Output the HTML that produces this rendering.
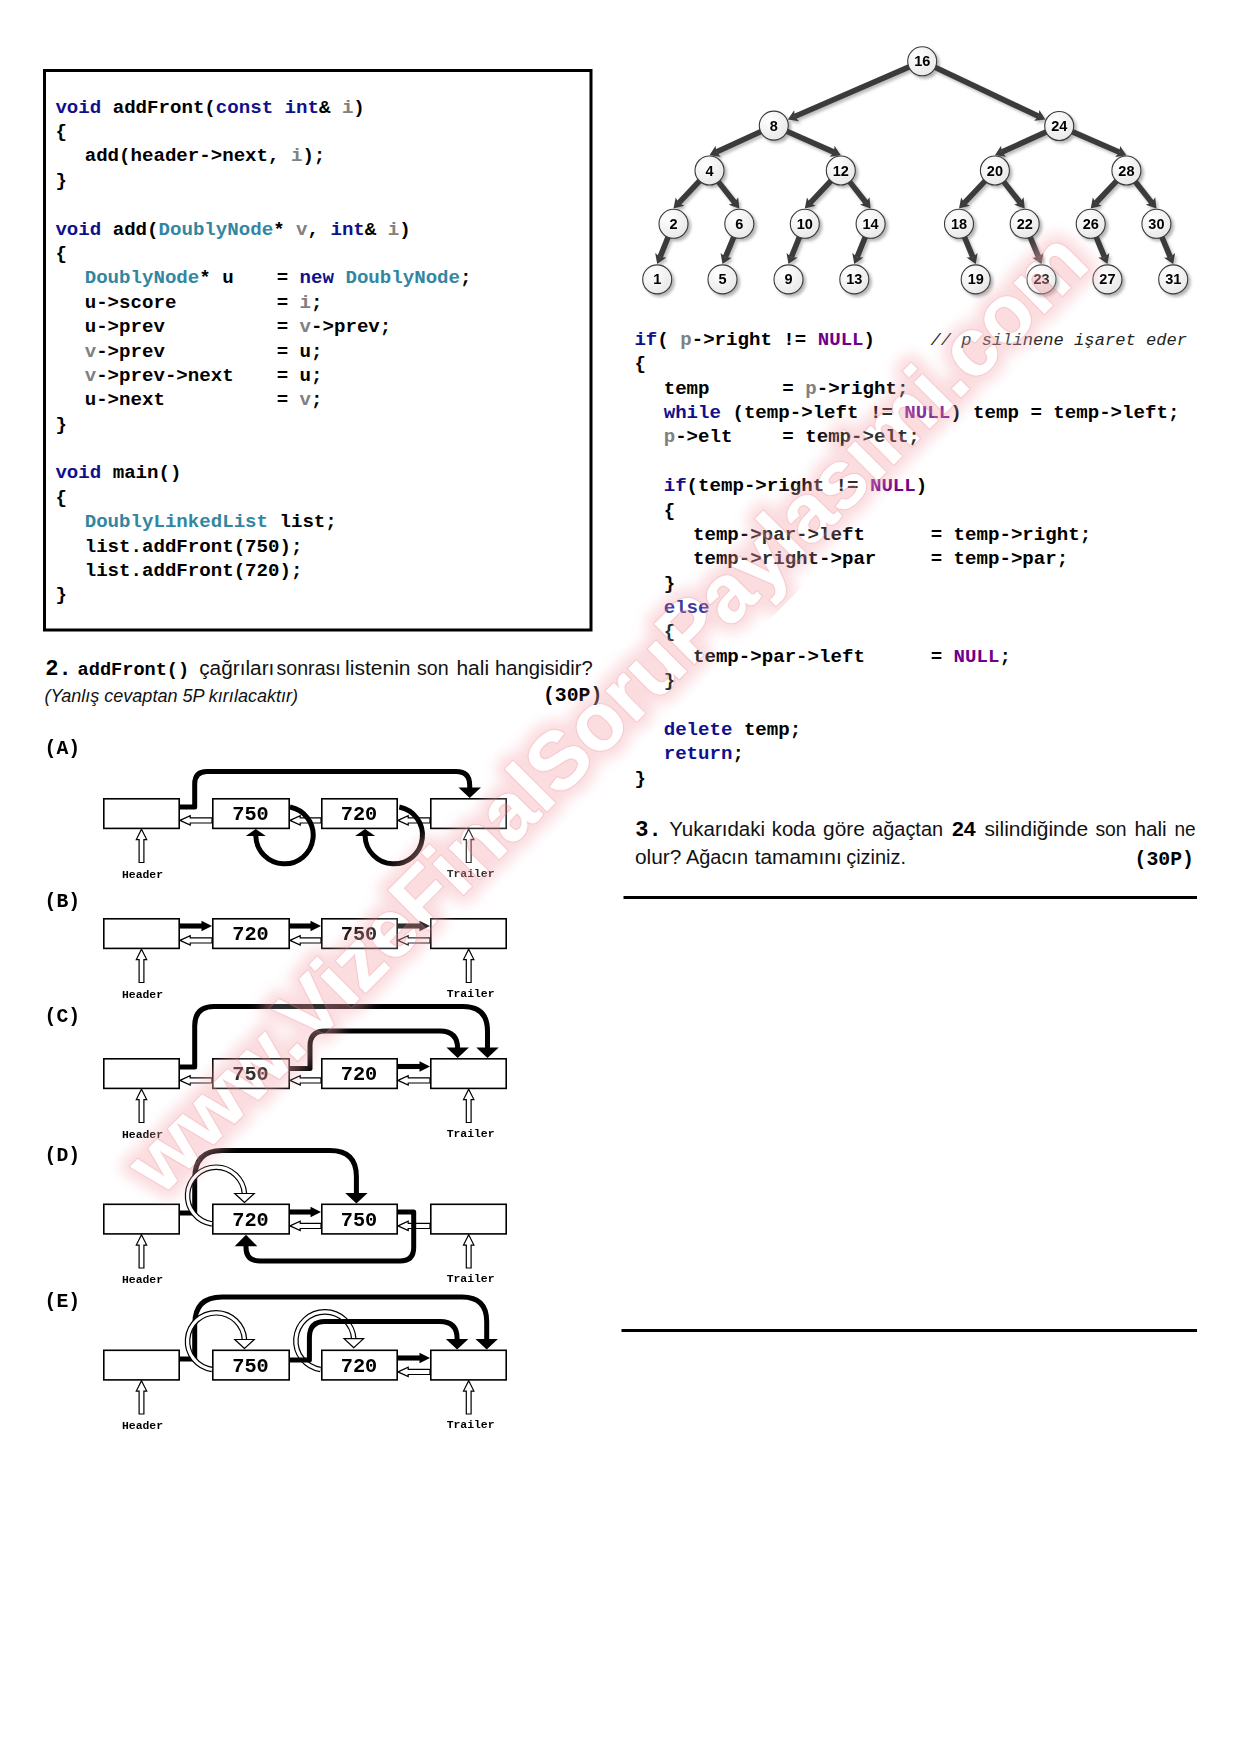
<!DOCTYPE html><html><head><meta charset="utf-8"><style>html,body{margin:0;padding:0;background:#fff;}body{width:1240px;height:1754px;overflow:hidden;position:relative;}svg{position:absolute;left:0;top:0;}svg text{white-space:pre;}</style></head><body>
<svg width="1240" height="1754" viewBox="0 0 1240 1754">
<defs><filter id="sh" x="-30%" y="-30%" width="160%" height="160%"><feGaussianBlur stdDeviation="1.6"/></filter><radialGradient id="ng" cx="35%" cy="30%" r="75%"><stop offset="0" stop-color="#ffffff"/><stop offset="1" stop-color="#e8e8e8"/></radialGradient><filter id="wm" x="-10%" y="-10%" width="120%" height="120%"><feGaussianBlur stdDeviation="4"/></filter></defs>
<rect x="44.5" y="70.5" width="546.5" height="559.5" fill="none" stroke="#000" stroke-width="3"/>
<text x="55.40" y="112.70" font-family="'Liberation Mono', monospace" font-size="19.10" font-weight="bold" font-style="normal" xml:space="preserve"><tspan fill="#10108c">void</tspan><tspan fill="#000000"> addFront(</tspan><tspan fill="#10108c">const</tspan><tspan fill="#000000"> </tspan><tspan fill="#10108c">int</tspan><tspan fill="#000000">&amp; </tspan><tspan fill="#808080">i</tspan><tspan fill="#000000">)</tspan></text>
<text x="55.40" y="137.08" font-family="'Liberation Mono', monospace" font-size="19.10" font-weight="bold" font-style="normal" xml:space="preserve"><tspan fill="#000000">{</tspan></text>
<text x="84.70" y="161.46" font-family="'Liberation Mono', monospace" font-size="19.10" font-weight="bold" font-style="normal" xml:space="preserve"><tspan fill="#000000">add(header-&gt;next, </tspan><tspan fill="#808080">i</tspan><tspan fill="#000000">);</tspan></text>
<text x="55.40" y="185.84" font-family="'Liberation Mono', monospace" font-size="19.10" font-weight="bold" font-style="normal" xml:space="preserve"><tspan fill="#000000">}</tspan></text>
<text x="55.40" y="234.60" font-family="'Liberation Mono', monospace" font-size="19.10" font-weight="bold" font-style="normal" xml:space="preserve"><tspan fill="#10108c">void</tspan><tspan fill="#000000"> add(</tspan><tspan fill="#3386a0">DoublyNode</tspan><tspan fill="#000000">* </tspan><tspan fill="#808080">v</tspan><tspan fill="#000000">, </tspan><tspan fill="#10108c">int</tspan><tspan fill="#000000">&amp; </tspan><tspan fill="#808080">i</tspan><tspan fill="#000000">)</tspan></text>
<text x="55.40" y="258.98" font-family="'Liberation Mono', monospace" font-size="19.10" font-weight="bold" font-style="normal" xml:space="preserve"><tspan fill="#000000">{</tspan></text>
<text x="84.70" y="283.36" font-family="'Liberation Mono', monospace" font-size="19.10" font-weight="bold" font-style="normal" xml:space="preserve"><tspan fill="#3386a0">DoublyNode</tspan><tspan fill="#000000">* u</tspan></text>
<text x="276.70" y="283.36" font-family="'Liberation Mono', monospace" font-size="19.10" font-weight="bold" font-style="normal" xml:space="preserve"><tspan fill="#000000">= </tspan><tspan fill="#10108c">new</tspan><tspan fill="#000000"> </tspan><tspan fill="#3386a0">DoublyNode</tspan><tspan fill="#000000">;</tspan></text>
<text x="84.70" y="307.74" font-family="'Liberation Mono', monospace" font-size="19.10" font-weight="bold" font-style="normal" xml:space="preserve"><tspan fill="#000000">u-&gt;score</tspan></text>
<text x="276.70" y="307.74" font-family="'Liberation Mono', monospace" font-size="19.10" font-weight="bold" font-style="normal" xml:space="preserve"><tspan fill="#000000">= </tspan><tspan fill="#808080">i</tspan><tspan fill="#000000">;</tspan></text>
<text x="84.70" y="332.12" font-family="'Liberation Mono', monospace" font-size="19.10" font-weight="bold" font-style="normal" xml:space="preserve"><tspan fill="#000000">u-&gt;prev</tspan></text>
<text x="276.70" y="332.12" font-family="'Liberation Mono', monospace" font-size="19.10" font-weight="bold" font-style="normal" xml:space="preserve"><tspan fill="#000000">= </tspan><tspan fill="#808080">v</tspan><tspan fill="#000000">-&gt;prev;</tspan></text>
<text x="84.70" y="356.50" font-family="'Liberation Mono', monospace" font-size="19.10" font-weight="bold" font-style="normal" xml:space="preserve"><tspan fill="#808080">v</tspan><tspan fill="#000000">-&gt;prev</tspan></text>
<text x="276.70" y="356.50" font-family="'Liberation Mono', monospace" font-size="19.10" font-weight="bold" font-style="normal" xml:space="preserve"><tspan fill="#000000">= u;</tspan></text>
<text x="84.70" y="380.88" font-family="'Liberation Mono', monospace" font-size="19.10" font-weight="bold" font-style="normal" xml:space="preserve"><tspan fill="#808080">v</tspan><tspan fill="#000000">-&gt;prev-&gt;next</tspan></text>
<text x="276.70" y="380.88" font-family="'Liberation Mono', monospace" font-size="19.10" font-weight="bold" font-style="normal" xml:space="preserve"><tspan fill="#000000">= u;</tspan></text>
<text x="84.70" y="405.26" font-family="'Liberation Mono', monospace" font-size="19.10" font-weight="bold" font-style="normal" xml:space="preserve"><tspan fill="#000000">u-&gt;next</tspan></text>
<text x="276.70" y="405.26" font-family="'Liberation Mono', monospace" font-size="19.10" font-weight="bold" font-style="normal" xml:space="preserve"><tspan fill="#000000">= </tspan><tspan fill="#808080">v</tspan><tspan fill="#000000">;</tspan></text>
<text x="55.40" y="429.64" font-family="'Liberation Mono', monospace" font-size="19.10" font-weight="bold" font-style="normal" xml:space="preserve"><tspan fill="#000000">}</tspan></text>
<text x="55.40" y="478.40" font-family="'Liberation Mono', monospace" font-size="19.10" font-weight="bold" font-style="normal" xml:space="preserve"><tspan fill="#10108c">void</tspan><tspan fill="#000000"> main()</tspan></text>
<text x="55.40" y="502.78" font-family="'Liberation Mono', monospace" font-size="19.10" font-weight="bold" font-style="normal" xml:space="preserve"><tspan fill="#000000">{</tspan></text>
<text x="84.70" y="527.16" font-family="'Liberation Mono', monospace" font-size="19.10" font-weight="bold" font-style="normal" xml:space="preserve"><tspan fill="#3386a0">DoublyLinkedList</tspan><tspan fill="#000000"> list;</tspan></text>
<text x="84.70" y="551.54" font-family="'Liberation Mono', monospace" font-size="19.10" font-weight="bold" font-style="normal" xml:space="preserve"><tspan fill="#000000">list.addFront(750);</tspan></text>
<text x="84.70" y="575.92" font-family="'Liberation Mono', monospace" font-size="19.10" font-weight="bold" font-style="normal" xml:space="preserve"><tspan fill="#000000">list.addFront(720);</tspan></text>
<text x="55.40" y="600.30" font-family="'Liberation Mono', monospace" font-size="19.10" font-weight="bold" font-style="normal" xml:space="preserve"><tspan fill="#000000">}</tspan></text>
<text x="634.40" y="344.90" font-family="'Liberation Mono', monospace" font-size="19.10" font-weight="bold" font-style="normal" xml:space="preserve"><tspan fill="#10108c">if</tspan><tspan fill="#000000">( </tspan><tspan fill="#808080">p</tspan><tspan fill="#000000">-&gt;right != </tspan><tspan fill="#6f008a">NULL</tspan><tspan fill="#000000">)</tspan></text>
<text x="634.40" y="369.28" font-family="'Liberation Mono', monospace" font-size="19.10" font-weight="bold" font-style="normal" xml:space="preserve"><tspan fill="#000000">{</tspan></text>
<text x="663.70" y="393.66" font-family="'Liberation Mono', monospace" font-size="19.10" font-weight="bold" font-style="normal" xml:space="preserve"><tspan fill="#000000">temp</tspan></text>
<text x="782.30" y="393.66" font-family="'Liberation Mono', monospace" font-size="19.10" font-weight="bold" font-style="normal" xml:space="preserve"><tspan fill="#000000">= </tspan><tspan fill="#808080">p</tspan><tspan fill="#000000">-&gt;right;</tspan></text>
<text x="663.70" y="418.04" font-family="'Liberation Mono', monospace" font-size="19.10" font-weight="bold" font-style="normal" xml:space="preserve"><tspan fill="#10108c">while</tspan><tspan fill="#000000"> (temp-&gt;left != </tspan><tspan fill="#6f008a">NULL</tspan><tspan fill="#000000">) temp = temp-&gt;left;</tspan></text>
<text x="663.70" y="442.42" font-family="'Liberation Mono', monospace" font-size="19.10" font-weight="bold" font-style="normal" xml:space="preserve"><tspan fill="#808080">p</tspan><tspan fill="#000000">-&gt;elt</tspan></text>
<text x="782.30" y="442.42" font-family="'Liberation Mono', monospace" font-size="19.10" font-weight="bold" font-style="normal" xml:space="preserve"><tspan fill="#000000">= temp-&gt;elt;</tspan></text>
<text x="663.70" y="491.18" font-family="'Liberation Mono', monospace" font-size="19.10" font-weight="bold" font-style="normal" xml:space="preserve"><tspan fill="#10108c">if</tspan><tspan fill="#000000">(temp-&gt;right != </tspan><tspan fill="#6f008a">NULL</tspan><tspan fill="#000000">)</tspan></text>
<text x="663.70" y="515.56" font-family="'Liberation Mono', monospace" font-size="19.10" font-weight="bold" font-style="normal" xml:space="preserve"><tspan fill="#000000">{</tspan></text>
<text x="693.00" y="539.94" font-family="'Liberation Mono', monospace" font-size="19.10" font-weight="bold" font-style="normal" xml:space="preserve"><tspan fill="#000000">temp-&gt;par-&gt;left</tspan></text>
<text x="930.70" y="539.94" font-family="'Liberation Mono', monospace" font-size="19.10" font-weight="bold" font-style="normal" xml:space="preserve"><tspan fill="#000000">= temp-&gt;right;</tspan></text>
<text x="693.00" y="564.32" font-family="'Liberation Mono', monospace" font-size="19.10" font-weight="bold" font-style="normal" xml:space="preserve"><tspan fill="#000000">temp-&gt;right-&gt;par</tspan></text>
<text x="930.70" y="564.32" font-family="'Liberation Mono', monospace" font-size="19.10" font-weight="bold" font-style="normal" xml:space="preserve"><tspan fill="#000000">= temp-&gt;par;</tspan></text>
<text x="663.70" y="588.70" font-family="'Liberation Mono', monospace" font-size="19.10" font-weight="bold" font-style="normal" xml:space="preserve"><tspan fill="#000000">}</tspan></text>
<text x="663.70" y="613.08" font-family="'Liberation Mono', monospace" font-size="19.10" font-weight="bold" font-style="normal" xml:space="preserve"><tspan fill="#10108c">else</tspan></text>
<text x="663.70" y="637.46" font-family="'Liberation Mono', monospace" font-size="19.10" font-weight="bold" font-style="normal" xml:space="preserve"><tspan fill="#000000">{</tspan></text>
<text x="693.00" y="661.84" font-family="'Liberation Mono', monospace" font-size="19.10" font-weight="bold" font-style="normal" xml:space="preserve"><tspan fill="#000000">temp-&gt;par-&gt;left</tspan></text>
<text x="930.70" y="661.84" font-family="'Liberation Mono', monospace" font-size="19.10" font-weight="bold" font-style="normal" xml:space="preserve"><tspan fill="#000000">= </tspan><tspan fill="#6f008a">NULL</tspan><tspan fill="#000000">;</tspan></text>
<text x="663.70" y="686.22" font-family="'Liberation Mono', monospace" font-size="19.10" font-weight="bold" font-style="normal" xml:space="preserve"><tspan fill="#000000">}</tspan></text>
<text x="663.70" y="734.98" font-family="'Liberation Mono', monospace" font-size="19.10" font-weight="bold" font-style="normal" xml:space="preserve"><tspan fill="#10108c">delete</tspan><tspan fill="#000000"> temp;</tspan></text>
<text x="663.70" y="759.36" font-family="'Liberation Mono', monospace" font-size="19.10" font-weight="bold" font-style="normal" xml:space="preserve"><tspan fill="#10108c">return</tspan><tspan fill="#000000">;</tspan></text>
<text x="634.40" y="783.74" font-family="'Liberation Mono', monospace" font-size="19.10" font-weight="bold" font-style="normal" xml:space="preserve"><tspan fill="#000000">}</tspan></text>
<text x="930.5" y="344.9" font-family="'Liberation Mono', monospace" font-size="17.1" font-style="italic" fill="#222" xml:space="preserve">// p silinene işaret eder</text>
<text x="45.2" y="675" font-family="'Liberation Mono', monospace" font-size="22" font-weight="bold" fill="#000">2.</text>
<text x="77.6" y="675" font-family="'Liberation Mono', monospace" font-size="18.6" font-weight="bold" fill="#000">addFront()</text>
<text x="199.2" y="674.5" font-family="'Liberation Sans', sans-serif" font-size="19.7" font-weight="normal" fill="#111" textLength="75.2" lengthAdjust="spacingAndGlyphs">çağrıları</text>
<text x="276.5" y="674.5" font-family="'Liberation Sans', sans-serif" font-size="19.7" font-weight="normal" fill="#111" textLength="64.3" lengthAdjust="spacingAndGlyphs">sonrası</text>
<text x="345.1" y="674.5" font-family="'Liberation Sans', sans-serif" font-size="19.7" font-weight="normal" fill="#111" textLength="65.4" lengthAdjust="spacingAndGlyphs">listenin</text>
<text x="416.9" y="674.5" font-family="'Liberation Sans', sans-serif" font-size="19.7" font-weight="normal" fill="#111" textLength="31.7" lengthAdjust="spacingAndGlyphs">son</text>
<text x="456.4" y="674.5" font-family="'Liberation Sans', sans-serif" font-size="19.7" font-weight="normal" fill="#111" textLength="32.7" lengthAdjust="spacingAndGlyphs">hali</text>
<text x="495.0" y="674.5" font-family="'Liberation Sans', sans-serif" font-size="19.7" font-weight="normal" fill="#111" textLength="97.6" lengthAdjust="spacingAndGlyphs">hangisidir?</text>
<text x="44.5" y="701.5" font-family="'Liberation Sans', sans-serif" font-size="18.6" font-style="italic" fill="#111" textLength="253.5" lengthAdjust="spacingAndGlyphs">(Yanlış cevaptan 5P kırılacaktır)</text>
<text x="543.0" y="701.0" font-family="'Liberation Mono', monospace" font-size="19.8" font-weight="bold" fill="#000">(30P)</text>
<text x="635.2" y="836.3" font-family="'Liberation Mono', monospace" font-size="22" font-weight="bold" fill="#000">3.</text>
<text x="669.3" y="836.3" font-family="'Liberation Sans', sans-serif" font-size="19.7" font-weight="normal" fill="#111" textLength="95.7" lengthAdjust="spacingAndGlyphs">Yukarıdaki</text>
<text x="771.8" y="836.3" font-family="'Liberation Sans', sans-serif" font-size="19.7" font-weight="normal" fill="#111" textLength="43.8" lengthAdjust="spacingAndGlyphs">koda</text>
<text x="823.1" y="836.3" font-family="'Liberation Sans', sans-serif" font-size="19.7" font-weight="normal" fill="#111" textLength="41.7" lengthAdjust="spacingAndGlyphs">göre</text>
<text x="872.1" y="836.3" font-family="'Liberation Sans', sans-serif" font-size="19.7" font-weight="normal" fill="#111" textLength="71.0" lengthAdjust="spacingAndGlyphs">ağaçtan</text>
<text x="951.9" y="836.3" font-family="'Liberation Sans', sans-serif" font-size="19.7" font-weight="bold" fill="#000" textLength="23.7" lengthAdjust="spacingAndGlyphs">24</text>
<text x="984.4" y="836.3" font-family="'Liberation Sans', sans-serif" font-size="19.7" font-weight="normal" fill="#111" textLength="103.7" lengthAdjust="spacingAndGlyphs">silindiğinde</text>
<text x="1095.4" y="836.3" font-family="'Liberation Sans', sans-serif" font-size="19.7" font-weight="normal" fill="#111" textLength="31.2" lengthAdjust="spacingAndGlyphs">son</text>
<text x="1134.4" y="836.3" font-family="'Liberation Sans', sans-serif" font-size="19.7" font-weight="normal" fill="#111" textLength="32.2" lengthAdjust="spacingAndGlyphs">hali</text>
<text x="1174.4" y="836.3" font-family="'Liberation Sans', sans-serif" font-size="19.7" font-weight="normal" fill="#111" textLength="21.2" lengthAdjust="spacingAndGlyphs">ne</text>
<text x="635.0" y="864.2" font-family="'Liberation Sans', sans-serif" font-size="19.7" font-weight="normal" fill="#111" textLength="46.4" lengthAdjust="spacingAndGlyphs">olur?</text>
<text x="685.9" y="864.2" font-family="'Liberation Sans', sans-serif" font-size="19.7" font-weight="normal" fill="#111" textLength="62.1" lengthAdjust="spacingAndGlyphs">Ağacın</text>
<text x="754.7" y="864.2" font-family="'Liberation Sans', sans-serif" font-size="19.7" font-weight="normal" fill="#111" textLength="87.0" lengthAdjust="spacingAndGlyphs">tamamını</text>
<text x="846.2" y="864.2" font-family="'Liberation Sans', sans-serif" font-size="19.7" font-weight="normal" fill="#111" textLength="59.9" lengthAdjust="spacingAndGlyphs">çiziniz.</text>
<text x="1134.6" y="864.7" font-family="'Liberation Mono', monospace" font-size="19.8" font-weight="bold" fill="#000">(30P)</text>
<rect x="623.5" y="896" width="573.5" height="3" fill="#000"/>
<rect x="621.5" y="1329" width="575.5" height="3" fill="#000"/>
<g filter="url(#sh)" opacity="0.55">
<g transform="translate(2.0,2.5)"><line x1="909.81" y1="66.67" x2="794.72" y2="116.54" stroke="#888" stroke-width="5.6"/><polygon points="787.84,119.52 794.17,110.23 794.72,116.54 798.94,121.25" fill="#888"/></g>
<g transform="translate(2.0,2.5)"><line x1="934.41" y1="67.06" x2="1038.58" y2="116.26" stroke="#888" stroke-width="5.6"/><polygon points="1045.37,119.47 1034.21,120.83 1038.58,116.26 1039.34,109.98" fill="#888"/></g>
<g transform="translate(2.0,2.5)"><line x1="761.54" y1="131.25" x2="716.31" y2="152.06" stroke="#888" stroke-width="5.6"/><polygon points="709.50,155.20 715.62,145.78 716.31,152.06 720.64,156.68" fill="#888"/></g>
<g transform="translate(2.0,2.5)"><line x1="786.15" y1="131.06" x2="833.94" y2="152.17" stroke="#888" stroke-width="5.6"/><polygon points="840.80,155.20 829.69,156.85 833.94,152.17 834.53,145.87" fill="#888"/></g>
<g transform="translate(2.0,2.5)"><line x1="1046.91" y1="131.58" x2="1001.73" y2="152.10" stroke="#888" stroke-width="5.6"/><polygon points="994.90,155.20 1001.07,145.81 1001.73,152.10 1006.03,156.73" fill="#888"/></g>
<g transform="translate(2.0,2.5)"><line x1="1071.58" y1="131.38" x2="1119.52" y2="152.21" stroke="#888" stroke-width="5.6"/><polygon points="1126.40,155.20 1115.30,156.92 1119.52,152.21 1120.08,145.91" fill="#888"/></g>
<g transform="translate(2.0,2.5)"><line x1="700.22" y1="180.30" x2="678.66" y2="203.06" stroke="#888" stroke-width="5.6"/><polygon points="673.50,208.50 675.68,197.48 678.66,203.06 684.39,205.73" fill="#888"/></g>
<g transform="translate(2.0,2.5)"><line x1="717.83" y1="181.12" x2="734.67" y2="202.60" stroke="#888" stroke-width="5.6"/><polygon points="739.30,208.50 728.72,204.73 734.67,202.60 738.16,197.32" fill="#888"/></g>
<g transform="translate(2.0,2.5)"><line x1="831.52" y1="180.30" x2="809.96" y2="203.06" stroke="#888" stroke-width="5.6"/><polygon points="804.80,208.50 806.98,197.48 809.96,203.06 815.69,205.73" fill="#888"/></g>
<g transform="translate(2.0,2.5)"><line x1="849.13" y1="181.12" x2="865.97" y2="202.60" stroke="#888" stroke-width="5.6"/><polygon points="870.60,208.50 860.02,204.73 865.97,202.60 869.46,197.32" fill="#888"/></g>
<g transform="translate(2.0,2.5)"><line x1="985.63" y1="180.31" x2="964.15" y2="203.05" stroke="#888" stroke-width="5.6"/><polygon points="959.00,208.50 961.16,197.47 964.15,203.05 969.89,205.71" fill="#888"/></g>
<g transform="translate(2.0,2.5)"><line x1="1003.23" y1="181.12" x2="1020.07" y2="202.60" stroke="#888" stroke-width="5.6"/><polygon points="1024.70,208.50 1014.12,204.73 1020.07,202.60 1023.56,197.32" fill="#888"/></g>
<g transform="translate(2.0,2.5)"><line x1="1117.16" y1="180.34" x2="1095.84" y2="203.03" stroke="#888" stroke-width="5.6"/><polygon points="1090.70,208.50 1092.83,197.47 1095.84,203.03 1101.58,205.68" fill="#888"/></g>
<g transform="translate(2.0,2.5)"><line x1="1134.77" y1="181.10" x2="1151.75" y2="202.61" stroke="#888" stroke-width="5.6"/><polygon points="1156.40,208.50 1145.80,204.76 1151.75,202.61 1155.22,197.33" fill="#888"/></g>
<g transform="translate(2.0,2.5)"><line x1="668.44" y1="236.32" x2="660.01" y2="257.15" stroke="#888" stroke-width="5.6"/><polygon points="657.20,264.10 655.20,253.04 660.01,257.15 666.32,257.54" fill="#888"/></g>
<g transform="translate(2.0,2.5)"><line x1="734.11" y1="236.26" x2="725.39" y2="257.18" stroke="#888" stroke-width="5.6"/><polygon points="722.50,264.10 720.62,253.02 725.39,257.18 731.69,257.64" fill="#888"/></g>
<g transform="translate(2.0,2.5)"><line x1="799.74" y1="236.32" x2="791.31" y2="257.15" stroke="#888" stroke-width="5.6"/><polygon points="788.50,264.10 786.50,253.04 791.31,257.15 797.62,257.54" fill="#888"/></g>
<g transform="translate(2.0,2.5)"><line x1="865.54" y1="236.32" x2="857.11" y2="257.15" stroke="#888" stroke-width="5.6"/><polygon points="854.30,264.10 852.30,253.04 857.11,257.15 863.42,257.54" fill="#888"/></g>
<g transform="translate(2.0,2.5)"><line x1="964.17" y1="236.27" x2="972.83" y2="257.17" stroke="#888" stroke-width="5.6"/><polygon points="975.70,264.10 966.52,257.62 972.83,257.17 977.61,253.03" fill="#888"/></g>
<g transform="translate(2.0,2.5)"><line x1="1029.89" y1="236.26" x2="1038.61" y2="257.18" stroke="#888" stroke-width="5.6"/><polygon points="1041.50,264.10 1032.31,257.64 1038.61,257.18 1043.38,253.02" fill="#888"/></g>
<g transform="translate(2.0,2.5)"><line x1="1095.87" y1="236.27" x2="1104.53" y2="257.17" stroke="#888" stroke-width="5.6"/><polygon points="1107.40,264.10 1098.22,257.62 1104.53,257.17 1109.31,253.03" fill="#888"/></g>
<g transform="translate(2.0,2.5)"><line x1="1161.59" y1="236.26" x2="1170.31" y2="257.18" stroke="#888" stroke-width="5.6"/><polygon points="1173.20,264.10 1164.01,257.64 1170.31,257.18 1175.08,253.02" fill="#888"/></g>
<circle cx="924.70" cy="63.80" r="15.0" fill="#777"/>
<circle cx="776.30" cy="128.10" r="15.0" fill="#777"/>
<circle cx="1061.70" cy="128.50" r="15.0" fill="#777"/>
<circle cx="712.00" cy="173.00" r="15.0" fill="#777"/>
<circle cx="843.30" cy="173.00" r="15.0" fill="#777"/>
<circle cx="997.40" cy="173.00" r="15.0" fill="#777"/>
<circle cx="1128.90" cy="173.00" r="15.0" fill="#777"/>
<circle cx="676.00" cy="226.30" r="15.0" fill="#777"/>
<circle cx="741.80" cy="226.30" r="15.0" fill="#777"/>
<circle cx="807.30" cy="226.30" r="15.0" fill="#777"/>
<circle cx="873.10" cy="226.30" r="15.0" fill="#777"/>
<circle cx="961.50" cy="226.30" r="15.0" fill="#777"/>
<circle cx="1027.20" cy="226.30" r="15.0" fill="#777"/>
<circle cx="1093.20" cy="226.30" r="15.0" fill="#777"/>
<circle cx="1158.90" cy="226.30" r="15.0" fill="#777"/>
<circle cx="659.70" cy="281.90" r="15.0" fill="#777"/>
<circle cx="725.00" cy="281.90" r="15.0" fill="#777"/>
<circle cx="791.00" cy="281.90" r="15.0" fill="#777"/>
<circle cx="856.80" cy="281.90" r="15.0" fill="#777"/>
<circle cx="978.20" cy="281.90" r="15.0" fill="#777"/>
<circle cx="1044.00" cy="281.90" r="15.0" fill="#777"/>
<circle cx="1109.90" cy="281.90" r="15.0" fill="#777"/>
<circle cx="1175.70" cy="281.90" r="15.0" fill="#777"/>
</g>
<g transform="translate(0.0,0.0)"><line x1="909.81" y1="66.67" x2="794.72" y2="116.54" stroke="#3b3b3b" stroke-width="5.6"/><polygon points="787.84,119.52 794.17,110.23 794.72,116.54 798.94,121.25" fill="#3b3b3b"/></g>
<g transform="translate(0.0,0.0)"><line x1="934.41" y1="67.06" x2="1038.58" y2="116.26" stroke="#3b3b3b" stroke-width="5.6"/><polygon points="1045.37,119.47 1034.21,120.83 1038.58,116.26 1039.34,109.98" fill="#3b3b3b"/></g>
<g transform="translate(0.0,0.0)"><line x1="761.54" y1="131.25" x2="716.31" y2="152.06" stroke="#3b3b3b" stroke-width="5.6"/><polygon points="709.50,155.20 715.62,145.78 716.31,152.06 720.64,156.68" fill="#3b3b3b"/></g>
<g transform="translate(0.0,0.0)"><line x1="786.15" y1="131.06" x2="833.94" y2="152.17" stroke="#3b3b3b" stroke-width="5.6"/><polygon points="840.80,155.20 829.69,156.85 833.94,152.17 834.53,145.87" fill="#3b3b3b"/></g>
<g transform="translate(0.0,0.0)"><line x1="1046.91" y1="131.58" x2="1001.73" y2="152.10" stroke="#3b3b3b" stroke-width="5.6"/><polygon points="994.90,155.20 1001.07,145.81 1001.73,152.10 1006.03,156.73" fill="#3b3b3b"/></g>
<g transform="translate(0.0,0.0)"><line x1="1071.58" y1="131.38" x2="1119.52" y2="152.21" stroke="#3b3b3b" stroke-width="5.6"/><polygon points="1126.40,155.20 1115.30,156.92 1119.52,152.21 1120.08,145.91" fill="#3b3b3b"/></g>
<g transform="translate(0.0,0.0)"><line x1="700.22" y1="180.30" x2="678.66" y2="203.06" stroke="#3b3b3b" stroke-width="5.6"/><polygon points="673.50,208.50 675.68,197.48 678.66,203.06 684.39,205.73" fill="#3b3b3b"/></g>
<g transform="translate(0.0,0.0)"><line x1="717.83" y1="181.12" x2="734.67" y2="202.60" stroke="#3b3b3b" stroke-width="5.6"/><polygon points="739.30,208.50 728.72,204.73 734.67,202.60 738.16,197.32" fill="#3b3b3b"/></g>
<g transform="translate(0.0,0.0)"><line x1="831.52" y1="180.30" x2="809.96" y2="203.06" stroke="#3b3b3b" stroke-width="5.6"/><polygon points="804.80,208.50 806.98,197.48 809.96,203.06 815.69,205.73" fill="#3b3b3b"/></g>
<g transform="translate(0.0,0.0)"><line x1="849.13" y1="181.12" x2="865.97" y2="202.60" stroke="#3b3b3b" stroke-width="5.6"/><polygon points="870.60,208.50 860.02,204.73 865.97,202.60 869.46,197.32" fill="#3b3b3b"/></g>
<g transform="translate(0.0,0.0)"><line x1="985.63" y1="180.31" x2="964.15" y2="203.05" stroke="#3b3b3b" stroke-width="5.6"/><polygon points="959.00,208.50 961.16,197.47 964.15,203.05 969.89,205.71" fill="#3b3b3b"/></g>
<g transform="translate(0.0,0.0)"><line x1="1003.23" y1="181.12" x2="1020.07" y2="202.60" stroke="#3b3b3b" stroke-width="5.6"/><polygon points="1024.70,208.50 1014.12,204.73 1020.07,202.60 1023.56,197.32" fill="#3b3b3b"/></g>
<g transform="translate(0.0,0.0)"><line x1="1117.16" y1="180.34" x2="1095.84" y2="203.03" stroke="#3b3b3b" stroke-width="5.6"/><polygon points="1090.70,208.50 1092.83,197.47 1095.84,203.03 1101.58,205.68" fill="#3b3b3b"/></g>
<g transform="translate(0.0,0.0)"><line x1="1134.77" y1="181.10" x2="1151.75" y2="202.61" stroke="#3b3b3b" stroke-width="5.6"/><polygon points="1156.40,208.50 1145.80,204.76 1151.75,202.61 1155.22,197.33" fill="#3b3b3b"/></g>
<g transform="translate(0.0,0.0)"><line x1="668.44" y1="236.32" x2="660.01" y2="257.15" stroke="#3b3b3b" stroke-width="5.6"/><polygon points="657.20,264.10 655.20,253.04 660.01,257.15 666.32,257.54" fill="#3b3b3b"/></g>
<g transform="translate(0.0,0.0)"><line x1="734.11" y1="236.26" x2="725.39" y2="257.18" stroke="#3b3b3b" stroke-width="5.6"/><polygon points="722.50,264.10 720.62,253.02 725.39,257.18 731.69,257.64" fill="#3b3b3b"/></g>
<g transform="translate(0.0,0.0)"><line x1="799.74" y1="236.32" x2="791.31" y2="257.15" stroke="#3b3b3b" stroke-width="5.6"/><polygon points="788.50,264.10 786.50,253.04 791.31,257.15 797.62,257.54" fill="#3b3b3b"/></g>
<g transform="translate(0.0,0.0)"><line x1="865.54" y1="236.32" x2="857.11" y2="257.15" stroke="#3b3b3b" stroke-width="5.6"/><polygon points="854.30,264.10 852.30,253.04 857.11,257.15 863.42,257.54" fill="#3b3b3b"/></g>
<g transform="translate(0.0,0.0)"><line x1="964.17" y1="236.27" x2="972.83" y2="257.17" stroke="#3b3b3b" stroke-width="5.6"/><polygon points="975.70,264.10 966.52,257.62 972.83,257.17 977.61,253.03" fill="#3b3b3b"/></g>
<g transform="translate(0.0,0.0)"><line x1="1029.89" y1="236.26" x2="1038.61" y2="257.18" stroke="#3b3b3b" stroke-width="5.6"/><polygon points="1041.50,264.10 1032.31,257.64 1038.61,257.18 1043.38,253.02" fill="#3b3b3b"/></g>
<g transform="translate(0.0,0.0)"><line x1="1095.87" y1="236.27" x2="1104.53" y2="257.17" stroke="#3b3b3b" stroke-width="5.6"/><polygon points="1107.40,264.10 1098.22,257.62 1104.53,257.17 1109.31,253.03" fill="#3b3b3b"/></g>
<g transform="translate(0.0,0.0)"><line x1="1161.59" y1="236.26" x2="1170.31" y2="257.18" stroke="#3b3b3b" stroke-width="5.6"/><polygon points="1173.20,264.10 1164.01,257.64 1170.31,257.18 1175.08,253.02" fill="#3b3b3b"/></g>
<circle cx="922.20" cy="61.30" r="14.5" fill="url(#ng)" stroke="#3a3a3a" stroke-width="1.1"/>
<text x="922.20" y="66.30" font-family="'Liberation Sans', sans-serif" font-size="14.5" font-weight="bold" text-anchor="middle" fill="#000">16</text>
<circle cx="773.80" cy="125.60" r="14.5" fill="url(#ng)" stroke="#3a3a3a" stroke-width="1.1"/>
<text x="773.80" y="130.60" font-family="'Liberation Sans', sans-serif" font-size="14.5" font-weight="bold" text-anchor="middle" fill="#000">8</text>
<circle cx="1059.20" cy="126.00" r="14.5" fill="url(#ng)" stroke="#3a3a3a" stroke-width="1.1"/>
<text x="1059.20" y="131.00" font-family="'Liberation Sans', sans-serif" font-size="14.5" font-weight="bold" text-anchor="middle" fill="#000">24</text>
<circle cx="709.50" cy="170.50" r="14.5" fill="url(#ng)" stroke="#3a3a3a" stroke-width="1.1"/>
<text x="709.50" y="175.50" font-family="'Liberation Sans', sans-serif" font-size="14.5" font-weight="bold" text-anchor="middle" fill="#000">4</text>
<circle cx="840.80" cy="170.50" r="14.5" fill="url(#ng)" stroke="#3a3a3a" stroke-width="1.1"/>
<text x="840.80" y="175.50" font-family="'Liberation Sans', sans-serif" font-size="14.5" font-weight="bold" text-anchor="middle" fill="#000">12</text>
<circle cx="994.90" cy="170.50" r="14.5" fill="url(#ng)" stroke="#3a3a3a" stroke-width="1.1"/>
<text x="994.90" y="175.50" font-family="'Liberation Sans', sans-serif" font-size="14.5" font-weight="bold" text-anchor="middle" fill="#000">20</text>
<circle cx="1126.40" cy="170.50" r="14.5" fill="url(#ng)" stroke="#3a3a3a" stroke-width="1.1"/>
<text x="1126.40" y="175.50" font-family="'Liberation Sans', sans-serif" font-size="14.5" font-weight="bold" text-anchor="middle" fill="#000">28</text>
<circle cx="673.50" cy="223.80" r="14.5" fill="url(#ng)" stroke="#3a3a3a" stroke-width="1.1"/>
<text x="673.50" y="228.80" font-family="'Liberation Sans', sans-serif" font-size="14.5" font-weight="bold" text-anchor="middle" fill="#000">2</text>
<circle cx="739.30" cy="223.80" r="14.5" fill="url(#ng)" stroke="#3a3a3a" stroke-width="1.1"/>
<text x="739.30" y="228.80" font-family="'Liberation Sans', sans-serif" font-size="14.5" font-weight="bold" text-anchor="middle" fill="#000">6</text>
<circle cx="804.80" cy="223.80" r="14.5" fill="url(#ng)" stroke="#3a3a3a" stroke-width="1.1"/>
<text x="804.80" y="228.80" font-family="'Liberation Sans', sans-serif" font-size="14.5" font-weight="bold" text-anchor="middle" fill="#000">10</text>
<circle cx="870.60" cy="223.80" r="14.5" fill="url(#ng)" stroke="#3a3a3a" stroke-width="1.1"/>
<text x="870.60" y="228.80" font-family="'Liberation Sans', sans-serif" font-size="14.5" font-weight="bold" text-anchor="middle" fill="#000">14</text>
<circle cx="959.00" cy="223.80" r="14.5" fill="url(#ng)" stroke="#3a3a3a" stroke-width="1.1"/>
<text x="959.00" y="228.80" font-family="'Liberation Sans', sans-serif" font-size="14.5" font-weight="bold" text-anchor="middle" fill="#000">18</text>
<circle cx="1024.70" cy="223.80" r="14.5" fill="url(#ng)" stroke="#3a3a3a" stroke-width="1.1"/>
<text x="1024.70" y="228.80" font-family="'Liberation Sans', sans-serif" font-size="14.5" font-weight="bold" text-anchor="middle" fill="#000">22</text>
<circle cx="1090.70" cy="223.80" r="14.5" fill="url(#ng)" stroke="#3a3a3a" stroke-width="1.1"/>
<text x="1090.70" y="228.80" font-family="'Liberation Sans', sans-serif" font-size="14.5" font-weight="bold" text-anchor="middle" fill="#000">26</text>
<circle cx="1156.40" cy="223.80" r="14.5" fill="url(#ng)" stroke="#3a3a3a" stroke-width="1.1"/>
<text x="1156.40" y="228.80" font-family="'Liberation Sans', sans-serif" font-size="14.5" font-weight="bold" text-anchor="middle" fill="#000">30</text>
<circle cx="657.20" cy="279.40" r="14.5" fill="url(#ng)" stroke="#3a3a3a" stroke-width="1.1"/>
<text x="657.20" y="284.40" font-family="'Liberation Sans', sans-serif" font-size="14.5" font-weight="bold" text-anchor="middle" fill="#000">1</text>
<circle cx="722.50" cy="279.40" r="14.5" fill="url(#ng)" stroke="#3a3a3a" stroke-width="1.1"/>
<text x="722.50" y="284.40" font-family="'Liberation Sans', sans-serif" font-size="14.5" font-weight="bold" text-anchor="middle" fill="#000">5</text>
<circle cx="788.50" cy="279.40" r="14.5" fill="url(#ng)" stroke="#3a3a3a" stroke-width="1.1"/>
<text x="788.50" y="284.40" font-family="'Liberation Sans', sans-serif" font-size="14.5" font-weight="bold" text-anchor="middle" fill="#000">9</text>
<circle cx="854.30" cy="279.40" r="14.5" fill="url(#ng)" stroke="#3a3a3a" stroke-width="1.1"/>
<text x="854.30" y="284.40" font-family="'Liberation Sans', sans-serif" font-size="14.5" font-weight="bold" text-anchor="middle" fill="#000">13</text>
<circle cx="975.70" cy="279.40" r="14.5" fill="url(#ng)" stroke="#3a3a3a" stroke-width="1.1"/>
<text x="975.70" y="284.40" font-family="'Liberation Sans', sans-serif" font-size="14.5" font-weight="bold" text-anchor="middle" fill="#000">19</text>
<circle cx="1041.50" cy="279.40" r="14.5" fill="url(#ng)" stroke="#3a3a3a" stroke-width="1.1"/>
<text x="1041.50" y="284.40" font-family="'Liberation Sans', sans-serif" font-size="14.5" font-weight="bold" text-anchor="middle" fill="#000">23</text>
<circle cx="1107.40" cy="279.40" r="14.5" fill="url(#ng)" stroke="#3a3a3a" stroke-width="1.1"/>
<text x="1107.40" y="284.40" font-family="'Liberation Sans', sans-serif" font-size="14.5" font-weight="bold" text-anchor="middle" fill="#000">27</text>
<circle cx="1173.20" cy="279.40" r="14.5" fill="url(#ng)" stroke="#3a3a3a" stroke-width="1.1"/>
<text x="1173.20" y="284.40" font-family="'Liberation Sans', sans-serif" font-size="14.5" font-weight="bold" text-anchor="middle" fill="#000">31</text>
<text x="44.6" y="753.80" font-family="'Liberation Mono', monospace" font-size="19.8" font-weight="bold" fill="#000">(A)</text>
<rect x="103.80" y="798.80" width="75.40" height="29.60" fill="#fff" stroke="#000" stroke-width="1.6"/>
<rect x="212.80" y="798.80" width="76.40" height="29.60" fill="#fff" stroke="#000" stroke-width="1.6"/>
<text x="250.50" y="820.00" font-family="'Liberation Mono', monospace" font-size="20.3" font-weight="bold" text-anchor="middle" fill="#000">750</text>
<rect x="321.80" y="798.80" width="75.40" height="29.60" fill="#fff" stroke="#000" stroke-width="1.6"/>
<text x="359.00" y="820.00" font-family="'Liberation Mono', monospace" font-size="20.3" font-weight="bold" text-anchor="middle" fill="#000">720</text>
<rect x="430.80" y="798.80" width="75.40" height="29.60" fill="#fff" stroke="#000" stroke-width="1.6"/>
<polygon points="141.50,829.20 146.70,839.60 143.90,839.60 143.90,862.50 139.10,862.50 139.10,839.60 136.30,839.60" fill="#fff" stroke="#000" stroke-width="1.2"/>
<polygon points="468.70,829.20 473.90,839.60 471.10,839.60 471.10,862.50 466.30,862.50 466.30,839.60 463.50,839.60" fill="#fff" stroke="#000" stroke-width="1.2"/>
<text x="142.5" y="877.60" font-family="'Liberation Mono', monospace" font-size="11.4" font-weight="bold" text-anchor="middle" fill="#000">Header</text>
<text x="470.6" y="876.60" font-family="'Liberation Mono', monospace" font-size="11.4" font-weight="bold" text-anchor="middle" fill="#000">Trailer</text>
<polygon points="180.00,820.40 190.20,815.70 190.20,817.80 212.00,817.80 212.00,823.00 190.20,823.00 190.20,825.10" fill="#fff" stroke="#000" stroke-width="1.2" stroke-linejoin="miter"/>
<polygon points="290.00,820.40 300.20,815.70 300.20,817.80 321.00,817.80 321.00,823.00 300.20,823.00 300.20,825.10" fill="#fff" stroke="#000" stroke-width="1.2" stroke-linejoin="miter"/>
<polygon points="398.00,820.40 408.20,815.70 408.20,817.80 430.00,817.80 430.00,823.00 408.20,823.00 408.20,825.10" fill="#fff" stroke="#000" stroke-width="1.2" stroke-linejoin="miter"/>
<path d="M180,807.0 H194.7 V784.0 Q194.7,771.4 207,771.4 H456 Q469.7,771.4 469.7,785.0 V789.0" fill="none" stroke="#000" stroke-width="5" stroke-linejoin="round"/>
<polygon points="469.70,798.00 458.45,787.50 480.95,787.50" fill="#000"/>
<path d="M290.0,807.0 A28.7,28.7 0 1 1 255.8,836.0" fill="none" stroke="#000" stroke-width="5" stroke-linejoin="round"/>
<polygon points="255.80,829.00 245.80,836.00 265.80,836.00" fill="#000"/>
<path d="M399.3,807.0 A28.7,28.7 0 1 1 365.1,836.0" fill="none" stroke="#000" stroke-width="5" stroke-linejoin="round"/>
<polygon points="365.10,829.00 355.10,836.00 375.10,836.00" fill="#000"/>
<text x="44.6" y="906.50" font-family="'Liberation Mono', monospace" font-size="19.8" font-weight="bold" fill="#000">(B)</text>
<rect x="103.80" y="918.80" width="75.40" height="29.60" fill="#fff" stroke="#000" stroke-width="1.6"/>
<rect x="212.80" y="918.80" width="76.40" height="29.60" fill="#fff" stroke="#000" stroke-width="1.6"/>
<text x="250.50" y="940.00" font-family="'Liberation Mono', monospace" font-size="20.3" font-weight="bold" text-anchor="middle" fill="#000">720</text>
<rect x="321.80" y="918.80" width="75.40" height="29.60" fill="#fff" stroke="#000" stroke-width="1.6"/>
<text x="359.00" y="940.00" font-family="'Liberation Mono', monospace" font-size="20.3" font-weight="bold" text-anchor="middle" fill="#000">750</text>
<rect x="430.80" y="918.80" width="75.40" height="29.60" fill="#fff" stroke="#000" stroke-width="1.6"/>
<polygon points="141.50,949.20 146.70,959.60 143.90,959.60 143.90,982.50 139.10,982.50 139.10,959.60 136.30,959.60" fill="#fff" stroke="#000" stroke-width="1.2"/>
<polygon points="468.70,949.20 473.90,959.60 471.10,959.60 471.10,982.50 466.30,982.50 466.30,959.60 463.50,959.60" fill="#fff" stroke="#000" stroke-width="1.2"/>
<text x="142.5" y="997.60" font-family="'Liberation Mono', monospace" font-size="11.4" font-weight="bold" text-anchor="middle" fill="#000">Header</text>
<text x="470.6" y="996.60" font-family="'Liberation Mono', monospace" font-size="11.4" font-weight="bold" text-anchor="middle" fill="#000">Trailer</text>
<rect x="180.00" y="923.45" width="22.00" height="5.1" fill="#000"/>
<polygon points="212.00,926.00 201.50,920.80 201.50,931.20" fill="#000"/>
<polygon points="180.00,940.40 190.20,935.70 190.20,937.80 212.00,937.80 212.00,943.00 190.20,943.00 190.20,945.10" fill="#fff" stroke="#000" stroke-width="1.2" stroke-linejoin="miter"/>
<rect x="290.00" y="923.45" width="21.00" height="5.1" fill="#000"/>
<polygon points="321.00,926.00 310.50,920.80 310.50,931.20" fill="#000"/>
<polygon points="290.00,940.40 300.20,935.70 300.20,937.80 321.00,937.80 321.00,943.00 300.20,943.00 300.20,945.10" fill="#fff" stroke="#000" stroke-width="1.2" stroke-linejoin="miter"/>
<rect x="398.00" y="923.45" width="22.00" height="5.1" fill="#000"/>
<polygon points="430.00,926.00 419.50,920.80 419.50,931.20" fill="#000"/>
<polygon points="398.00,940.40 408.20,935.70 408.20,937.80 430.00,937.80 430.00,943.00 408.20,943.00 408.20,945.10" fill="#fff" stroke="#000" stroke-width="1.2" stroke-linejoin="miter"/>
<text x="44.6" y="1021.50" font-family="'Liberation Mono', monospace" font-size="19.8" font-weight="bold" fill="#000">(C)</text>
<rect x="103.80" y="1058.80" width="75.40" height="29.60" fill="#fff" stroke="#000" stroke-width="1.6"/>
<rect x="212.80" y="1058.80" width="76.40" height="29.60" fill="#fff" stroke="#000" stroke-width="1.6"/>
<text x="250.50" y="1080.00" font-family="'Liberation Mono', monospace" font-size="20.3" font-weight="bold" text-anchor="middle" fill="#000">750</text>
<rect x="321.80" y="1058.80" width="75.40" height="29.60" fill="#fff" stroke="#000" stroke-width="1.6"/>
<text x="359.00" y="1080.00" font-family="'Liberation Mono', monospace" font-size="20.3" font-weight="bold" text-anchor="middle" fill="#000">720</text>
<rect x="430.80" y="1058.80" width="75.40" height="29.60" fill="#fff" stroke="#000" stroke-width="1.6"/>
<polygon points="141.50,1089.20 146.70,1099.60 143.90,1099.60 143.90,1122.50 139.10,1122.50 139.10,1099.60 136.30,1099.60" fill="#fff" stroke="#000" stroke-width="1.2"/>
<polygon points="468.70,1089.20 473.90,1099.60 471.10,1099.60 471.10,1122.50 466.30,1122.50 466.30,1099.60 463.50,1099.60" fill="#fff" stroke="#000" stroke-width="1.2"/>
<text x="142.5" y="1137.60" font-family="'Liberation Mono', monospace" font-size="11.4" font-weight="bold" text-anchor="middle" fill="#000">Header</text>
<text x="470.6" y="1136.60" font-family="'Liberation Mono', monospace" font-size="11.4" font-weight="bold" text-anchor="middle" fill="#000">Trailer</text>
<polygon points="180.00,1080.40 190.20,1075.70 190.20,1077.80 212.00,1077.80 212.00,1083.00 190.20,1083.00 190.20,1085.10" fill="#fff" stroke="#000" stroke-width="1.2" stroke-linejoin="miter"/>
<polygon points="290.00,1080.40 300.20,1075.70 300.20,1077.80 321.00,1077.80 321.00,1083.00 300.20,1083.00 300.20,1085.10" fill="#fff" stroke="#000" stroke-width="1.2" stroke-linejoin="miter"/>
<polygon points="398.00,1080.40 408.20,1075.70 408.20,1077.80 430.00,1077.80 430.00,1083.00 408.20,1083.00 408.20,1085.10" fill="#fff" stroke="#000" stroke-width="1.2" stroke-linejoin="miter"/>
<rect x="398.00" y="1063.95" width="22.00" height="5.1" fill="#000"/>
<polygon points="430.00,1066.50 419.50,1061.30 419.50,1071.70" fill="#000"/>
<path d="M180,1067.0 H194.7 V1026.0 Q194.7,1006.5 214,1006.5 H463 Q487.5,1006.5 487.5,1031.0 V1049.0" fill="none" stroke="#000" stroke-width="5" stroke-linejoin="round"/>
<polygon points="487.50,1058.00 476.25,1047.50 498.75,1047.50" fill="#000"/>
<path d="M290,1068.5 H310 V1046.0 Q310,1031.0 325,1031.0 H440 Q457.7,1031.0 457.7,1049.0 V1049.0" fill="none" stroke="#000" stroke-width="5" stroke-linejoin="round"/>
<polygon points="457.70,1058.00 446.45,1047.50 468.95,1047.50" fill="#000"/>
<text x="44.6" y="1161.30" font-family="'Liberation Mono', monospace" font-size="19.8" font-weight="bold" fill="#000">(D)</text>
<rect x="103.80" y="1204.30" width="75.40" height="29.60" fill="#fff" stroke="#000" stroke-width="1.6"/>
<rect x="212.80" y="1204.30" width="76.40" height="29.60" fill="#fff" stroke="#000" stroke-width="1.6"/>
<text x="250.50" y="1225.50" font-family="'Liberation Mono', monospace" font-size="20.3" font-weight="bold" text-anchor="middle" fill="#000">720</text>
<rect x="321.80" y="1204.30" width="75.40" height="29.60" fill="#fff" stroke="#000" stroke-width="1.6"/>
<text x="359.00" y="1225.50" font-family="'Liberation Mono', monospace" font-size="20.3" font-weight="bold" text-anchor="middle" fill="#000">750</text>
<rect x="430.80" y="1204.30" width="75.40" height="29.60" fill="#fff" stroke="#000" stroke-width="1.6"/>
<polygon points="141.50,1234.70 146.70,1245.10 143.90,1245.10 143.90,1268.00 139.10,1268.00 139.10,1245.10 136.30,1245.10" fill="#fff" stroke="#000" stroke-width="1.2"/>
<polygon points="468.70,1234.70 473.90,1245.10 471.10,1245.10 471.10,1268.00 466.30,1268.00 466.30,1245.10 463.50,1245.10" fill="#fff" stroke="#000" stroke-width="1.2"/>
<text x="142.5" y="1283.10" font-family="'Liberation Mono', monospace" font-size="11.4" font-weight="bold" text-anchor="middle" fill="#000">Header</text>
<text x="470.6" y="1282.10" font-family="'Liberation Mono', monospace" font-size="11.4" font-weight="bold" text-anchor="middle" fill="#000">Trailer</text>
<rect x="290.00" y="1209.45" width="21.00" height="5.1" fill="#000"/>
<polygon points="321.00,1212.00 310.50,1206.80 310.50,1217.20" fill="#000"/>
<polygon points="290.00,1225.90 300.20,1221.20 300.20,1223.30 321.00,1223.30 321.00,1228.50 300.20,1228.50 300.20,1230.60" fill="#fff" stroke="#000" stroke-width="1.2" stroke-linejoin="miter"/>
<polygon points="398.00,1225.90 408.20,1221.20 408.20,1223.30 430.00,1223.30 430.00,1228.50 408.20,1228.50 408.20,1230.60" fill="#fff" stroke="#000" stroke-width="1.2" stroke-linejoin="miter"/>
<path d="M180,1213.0 H194.7 V1178.5 Q194.7,1150.5 222,1150.5 H330 Q356.4,1150.5 356.4,1176.5 V1194.5" fill="none" stroke="#000" stroke-width="5" stroke-linejoin="round"/>
<polygon points="356.40,1203.50 345.15,1193.00 367.65,1193.00" fill="#000"/>
<path d="M212,1223.9 A28.5,28.5 0 1 1 244.5,1194.0" fill="none" stroke="#000" stroke-width="5.6"/>
<path d="M212,1223.9 A28.5,28.5 0 1 1 244.5,1194.0" fill="none" stroke="#fff" stroke-width="3.2"/>
<polygon points="244.50,1202.50 234.75,1193.50 254.25,1193.50" fill="#fff" stroke="#000" stroke-width="1.2"/>
<path d="M398,1212.0 H413.7 V1247.5 Q413.7,1261.0 400,1261.0 H260 Q246,1261.0 246,1247.5 V1245.5" fill="none" stroke="#000" stroke-width="5" stroke-linejoin="round"/>
<polygon points="246.00,1234.70 234.70,1246.20 257.30,1246.20" fill="#000"/>
<text x="44.6" y="1306.50" font-family="'Liberation Mono', monospace" font-size="19.8" font-weight="bold" fill="#000">(E)</text>
<rect x="103.80" y="1350.30" width="75.40" height="29.60" fill="#fff" stroke="#000" stroke-width="1.6"/>
<rect x="212.80" y="1350.30" width="76.40" height="29.60" fill="#fff" stroke="#000" stroke-width="1.6"/>
<text x="250.50" y="1371.50" font-family="'Liberation Mono', monospace" font-size="20.3" font-weight="bold" text-anchor="middle" fill="#000">750</text>
<rect x="321.80" y="1350.30" width="75.40" height="29.60" fill="#fff" stroke="#000" stroke-width="1.6"/>
<text x="359.00" y="1371.50" font-family="'Liberation Mono', monospace" font-size="20.3" font-weight="bold" text-anchor="middle" fill="#000">720</text>
<rect x="430.80" y="1350.30" width="75.40" height="29.60" fill="#fff" stroke="#000" stroke-width="1.6"/>
<polygon points="141.50,1380.70 146.70,1391.10 143.90,1391.10 143.90,1414.00 139.10,1414.00 139.10,1391.10 136.30,1391.10" fill="#fff" stroke="#000" stroke-width="1.2"/>
<polygon points="468.70,1380.70 473.90,1391.10 471.10,1391.10 471.10,1414.00 466.30,1414.00 466.30,1391.10 463.50,1391.10" fill="#fff" stroke="#000" stroke-width="1.2"/>
<text x="142.5" y="1429.10" font-family="'Liberation Mono', monospace" font-size="11.4" font-weight="bold" text-anchor="middle" fill="#000">Header</text>
<text x="470.6" y="1428.10" font-family="'Liberation Mono', monospace" font-size="11.4" font-weight="bold" text-anchor="middle" fill="#000">Trailer</text>
<rect x="398.00" y="1355.45" width="22.00" height="5.1" fill="#000"/>
<polygon points="430.00,1358.00 419.50,1352.80 419.50,1363.20" fill="#000"/>
<polygon points="398.00,1371.90 408.20,1367.20 408.20,1369.30 430.00,1369.30 430.00,1374.50 408.20,1374.50 408.20,1376.60" fill="#fff" stroke="#000" stroke-width="1.2" stroke-linejoin="miter"/>
<path d="M180,1359.0 H194.7 V1324.5 Q194.7,1297.0 222,1297.0 H462 Q486.7,1297.0 486.7,1321.5 V1340.5" fill="none" stroke="#000" stroke-width="5" stroke-linejoin="round"/>
<polygon points="486.70,1349.50 475.45,1339.00 497.95,1339.00" fill="#000"/>
<path d="M212,1369.5 A28.5,28.5 0 1 1 244.5,1340.0" fill="none" stroke="#000" stroke-width="5.6"/>
<path d="M212,1369.5 A28.5,28.5 0 1 1 244.5,1340.0" fill="none" stroke="#fff" stroke-width="3.2"/>
<polygon points="244.50,1348.50 234.75,1339.50 254.25,1339.50" fill="#fff" stroke="#000" stroke-width="1.2"/>
<path d="M320.5,1369.5 A29,29 0 1 1 353.8,1339.0" fill="none" stroke="#000" stroke-width="5.6"/>
<path d="M320.5,1369.5 A29,29 0 1 1 353.8,1339.0" fill="none" stroke="#fff" stroke-width="3.2"/>
<polygon points="353.80,1347.70 344.05,1338.70 363.55,1338.70" fill="#fff" stroke="#000" stroke-width="1.2"/>
<path d="M290,1360.0 H309.4 V1337.5 Q309.4,1321.5 325,1321.5 H440 Q457.1,1321.5 457.1,1338.5 V1340.5" fill="none" stroke="#000" stroke-width="5" stroke-linejoin="round"/>
<polygon points="457.10,1349.50 445.85,1339.00 468.35,1339.00" fill="#000"/>
</svg>
<svg width="1240" height="1754" viewBox="0 0 1240 1754">
<defs><filter id="wmb" x="-5%" y="-5%" width="110%" height="110%"><feGaussianBlur stdDeviation="6.5"/></filter>
<mask id="wmm" maskUnits="userSpaceOnUse" x="0" y="0" width="1240" height="1754"><rect width="1240" height="1754" fill="#fff"/><text x="161.0" y="1197.0" transform="rotate(-45 161.0 1197.0)" font-family="'Liberation Sans', sans-serif" font-weight="bold" font-size="81.7" letter-spacing="0.0" stroke-linejoin="round" fill="#000" stroke="#000" stroke-width="0.6">www.VizeFinalSoruPaylasimi.com</text></mask></defs>
<g mask="url(#wmm)"><text x="161.0" y="1197.0" transform="rotate(-45 161.0 1197.0)" font-family="'Liberation Sans', sans-serif" font-weight="bold" font-size="81.7" letter-spacing="0.0" stroke-linejoin="round" fill="none" stroke="#f4a8b0" stroke-width="20" filter="url(#wmb)" opacity="0.40">www.VizeFinalSoruPaylasimi.com</text></g>
<g opacity="0.18"><text x="161.0" y="1197.0" transform="rotate(-45 161.0 1197.0)" font-family="'Liberation Sans', sans-serif" font-weight="bold" font-size="81.7" letter-spacing="0.0" stroke-linejoin="round" fill="none" stroke="#e07a84" stroke-width="3.0">www.VizeFinalSoruPaylasimi.com</text>
<text x="161.0" y="1197.0" transform="rotate(-45 161.0 1197.0)" font-family="'Liberation Sans', sans-serif" font-weight="bold" font-size="81.7" letter-spacing="0.0" stroke-linejoin="round" fill="#fff" stroke="#fff" stroke-width="0.6">www.VizeFinalSoruPaylasimi.com</text></g>
</svg>
</body></html>
